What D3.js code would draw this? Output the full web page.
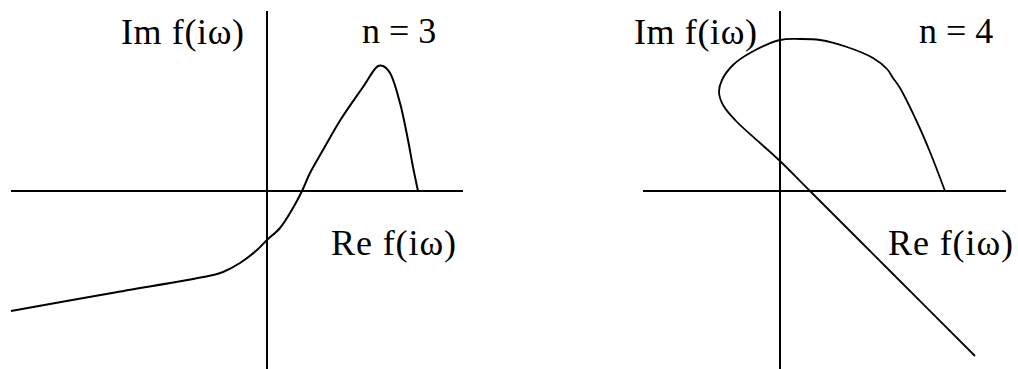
<!DOCTYPE html>
<html>
<head>
<meta charset="utf-8">
<script src="https://cdn.jsdelivr.net/npm/d3@7"></script>
<style>
  html, body { margin: 0; padding: 0; background: #fff; }
  svg { display: block; }
  text { font-family: "Liberation Serif", "Times New Roman", "DejaVu Serif", serif; font-size: 36px; fill: #000; }
</style>
</head>
<body>
<svg id="chart" width="1018" height="369"></svg>
<script>
// Mikhailov hodographs f(iω) for polynomial degree n = 3 and n = 4,
// given as [Re, Im] pairs in arbitrary plane units.
const hodographN3 = [
  [-25.6, -12.0], [-15.5, -10.2], [-5.4, -8.4], [-4.4, -8.1], [-2.7, -7.2],
  [-1.0, -5.9], [0, -4.9], [1.3, -3.7], [2.6, -1.7], [3.5, 0],
  [4.3, 1.8], [5.6, 4.1], [7.4, 7.2], [9.6, 10.4], [11.1, 12.5], [11.6, 12.5],
  [12.3, 11.8], [13.3, 8.8], [14.1, 5.1], [14.6, 2.4], [15.1, 0]
];
const hodographN4 = [
  [16.5, 0], [15.0, 3.9], [13.7, 6.9], [12.0, 10.3], [11.3, 11.3], [10.7, 12.2],
  [9.3, 13.3], [6.7, 14.4], [4.0, 15.1], [2.0, 15.2], [0, 15.1],
  [-3.0, 13.8], [-4.7, 12.6], [-5.8, 11.1], [-6.1, 9.9], [-5.7, 8.6],
  [-4.4, 7.0], [-2.1, 4.9], [0, 3.0], [3.0, 0], [11.2, -8.2], [19.5, -16.5]
];

// Axis extents in plane units: [min, max] along Re and Im.
const reExtentN3 = [-25.6, 19.6];
const reExtentN4 = [-13.7, 22.6];
const imExtent = [-17.8, 18.0];

// Labels
const imLabel = "Im f(iω)";
const reLabel = "Re f(iω)";
const degreeLabels = ["n = 3", "n = 4"];

const svg = d3.select("#chart");

// Shared vertical scale, one horizontal scale per panel
const y = d3.scaleLinear().domain([0, 10]).range([191, 91]);

const panels = [
  {
    x: d3.scaleLinear().domain([0, 10]).range([267, 367]),
    data: hodographN3, reExtent: reExtentN3, degree: degreeLabels[0],
    imPos: [121, 44], nPos: [362, 43], rePos: [331, 255], width: 2
  },
  {
    x: d3.scaleLinear().domain([0, 10]).range([780, 880]),
    data: hodographN4, reExtent: reExtentN4, degree: degreeLabels[1],
    imPos: [634, 44], nPos: [919, 43], rePos: [888, 255], width: 1.8
  }
];

panels.forEach(p => {
  const g = svg.append("g");

  // Coordinate axes
  g.append("line")
    .attr("x1", p.x(p.reExtent[0])).attr("x2", p.x(p.reExtent[1]))
    .attr("y1", y(0)).attr("y2", y(0))
    .attr("stroke", "#000").attr("stroke-width", 2);
  g.append("line")
    .attr("x1", p.x(0)).attr("x2", p.x(0))
    .attr("y1", y(imExtent[1])).attr("y2", y(imExtent[0]))
    .attr("stroke", "#000").attr("stroke-width", 2);

  // Hodograph curve
  const line = d3.line()
    .x(d => p.x(d[0]))
    .y(d => y(d[1]))
    .curve(d3.curveCatmullRom.alpha(0.5));
  g.append("path")
    .datum(p.data)
    .attr("d", line)
    .attr("fill", "none")
    .attr("stroke", "#000")
    .attr("stroke-width", p.width)
    .attr("stroke-linejoin", "round");

  // Labels
  g.append("text").attr("x", p.imPos[0]).attr("y", p.imPos[1])
    .attr("textLength", 123).attr("lengthAdjust", "spacing").text(imLabel);
  g.append("text").attr("x", p.nPos[0]).attr("y", p.nPos[1]).text(p.degree);
  g.append("text").attr("x", p.rePos[0]).attr("y", p.rePos[1])
    .attr("textLength", 125).attr("lengthAdjust", "spacing").text(reLabel);
});
</script>
</body>
</html>
